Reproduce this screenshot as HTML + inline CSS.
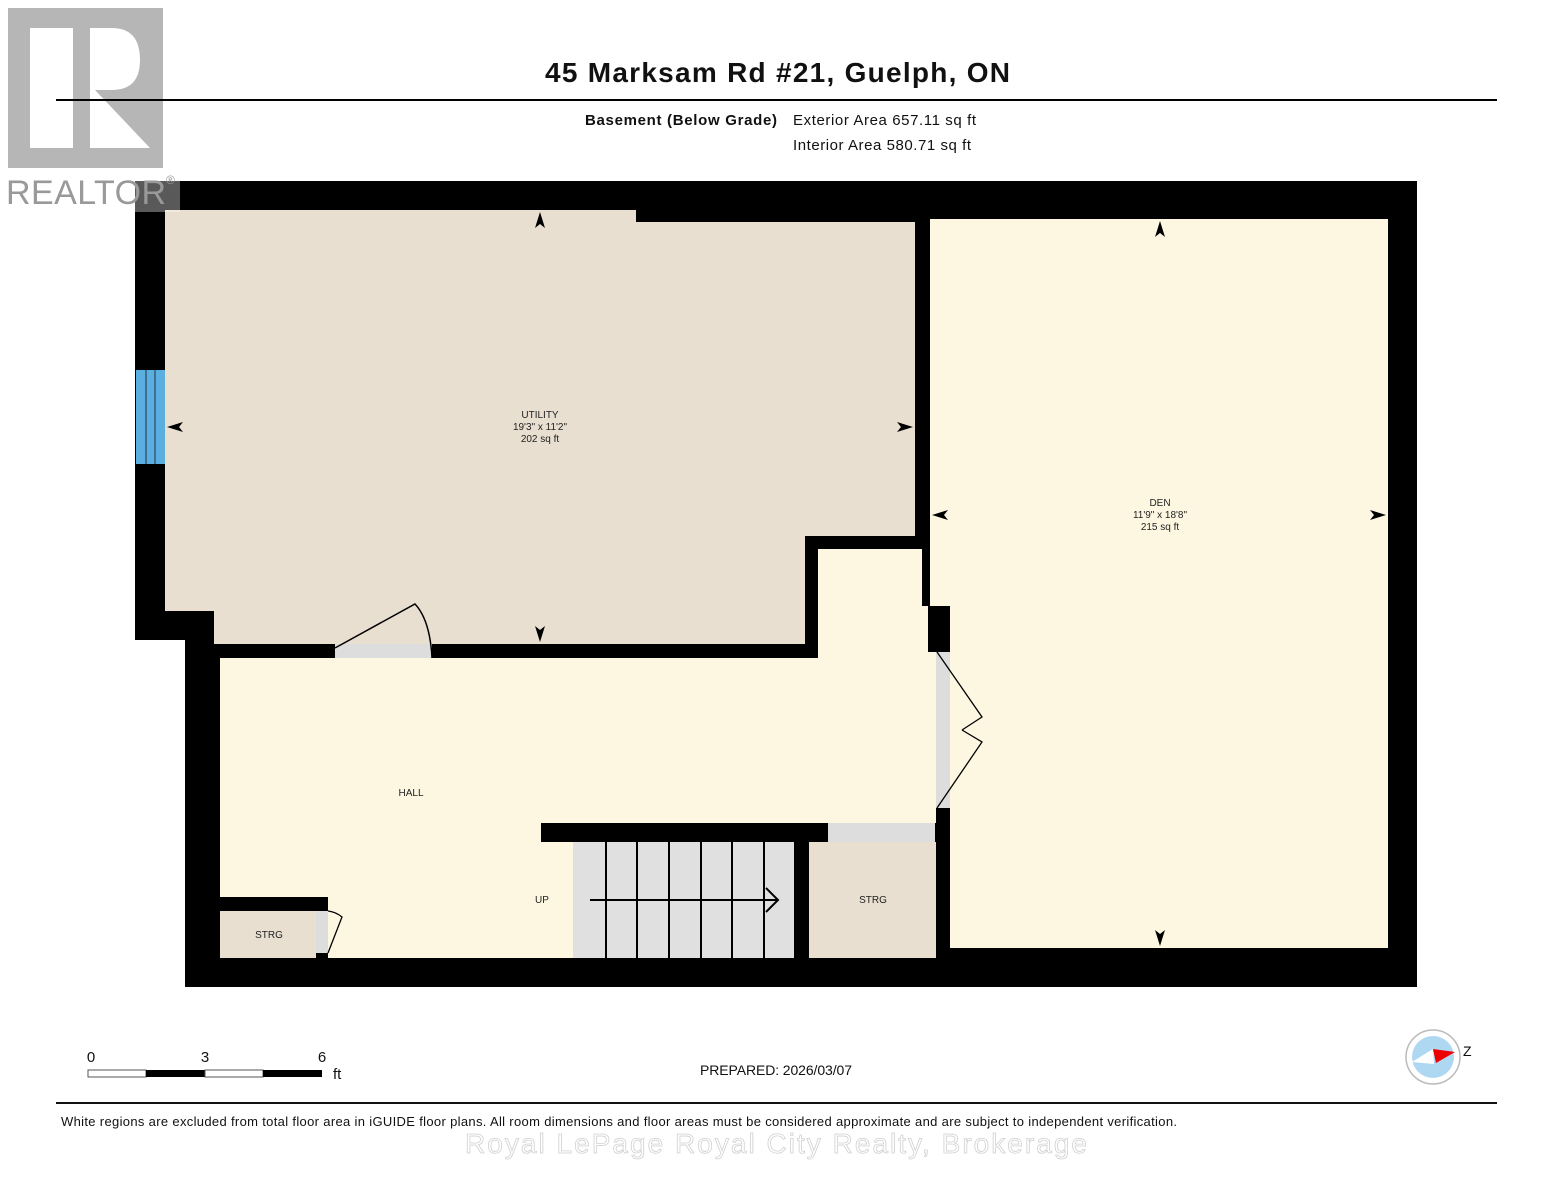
<!DOCTYPE html>
<html><head><meta charset="utf-8"><style>
html,body{margin:0;padding:0;background:#fff;}
svg{display:block;}
text{font-family:"Liberation Sans",Arial,sans-serif;}
</style></head><body>
<svg width="1553" height="1200" viewBox="0 0 1553 1200" xmlns="http://www.w3.org/2000/svg">
<rect width="1553" height="1200" fill="#fff"/>

<!-- title -->
<text x="545" y="82" font-size="28" font-weight="bold" fill="#111" textLength="465">45 Marksam Rd #21, Guelph, ON</text>
<line x1="56" y1="100" x2="1497" y2="100" stroke="#000" stroke-width="2"/>
<text x="585" y="125" font-size="15" font-weight="bold" fill="#111" textLength="192">Basement (Below Grade)</text>
<text x="793" y="125" font-size="15" fill="#111" textLength="183">Exterior Area 657.11 sq ft</text>
<text x="793" y="150" font-size="15" fill="#111" textLength="178">Interior Area 580.71 sq ft</text>

<!-- walls -->
<polygon points="135,181 1417,181 1417,987 185,987 185,640 135,640" fill="#000"/>
<polygon points="165,210 636,210 636,222 915,222 915,536 805,536 805,644 214,644 214,611 165,611" fill="#e8dfd0"/>
<polygon points="220,658 818,658 818,549 922,549 922,606 928,606 928,652 936,652 936,823 541,823 541,842 573,842 573,958 328,958 328,897 220,897" fill="#fdf7e2"/>
<polygon points="930,219 1388,219 1388,948 950,948 950,652 930,652" fill="#fdf7e2"/>
<rect x="928" y="606" width="22" height="46" fill="#000"/>
<rect x="936" y="652" width="14" height="156" fill="#ddd"/>
<rect x="936" y="808" width="14" height="150" fill="#000"/>
<rect x="573" y="842" width="221" height="116" fill="#e0e0e0"/>
<g stroke="#000" stroke-width="2">
<line x1="606" y1="842" x2="606" y2="958"/><line x1="637" y1="842" x2="637" y2="958"/>
<line x1="669" y1="842" x2="669" y2="958"/><line x1="701" y1="842" x2="701" y2="958"/>
<line x1="732" y1="842" x2="732" y2="958"/><line x1="764" y1="842" x2="764" y2="958"/>
</g>
<line x1="590" y1="900" x2="778" y2="900" stroke="#000" stroke-width="2"/>
<polyline points="766,888 778,900 766,912" fill="none" stroke="#000" stroke-width="2"/>
<rect x="809" y="842" width="127" height="116" fill="#e8dfd0"/>
<rect x="828" y="823" width="107" height="19" fill="#ddd"/>
<rect x="220" y="911" width="96" height="47" fill="#e8dfd0"/>
<rect x="316" y="911" width="12" height="42" fill="#ddd"/>
<path d="M328,953 L342,917 Q336,912 328,911" fill="none" stroke="#000" stroke-width="1.3"/>
<rect x="335" y="644" width="97" height="14" fill="#ddd"/>
<path d="M335,648 L415,604 Q430,620 432,658" fill="none" stroke="#000" stroke-width="1.5"/>
<path d="M937,652 L982,717 L962,730" fill="none" stroke="#000" stroke-width="1.3"/>
<path d="M937,808 L982,742 L962,730" fill="none" stroke="#000" stroke-width="1.3"/>
<rect x="136" y="370" width="29" height="94" fill="#5aaee0"/>
<g stroke="#234" stroke-width="1"><line x1="146" y1="370" x2="146" y2="464"/><line x1="155" y1="370" x2="155" y2="464"/></g>

<g fill="#000">
<polygon points="540,212 535,228 540,224 545,228"/>
<polygon points="540,642 535,626 540,630 545,626"/>
<polygon points="167,427 183,422 179,427 183,432"/>
<polygon points="913,427 897,422 901,427 897,432"/>
<polygon points="1160,221 1155,237 1160,233 1165,237"/>
<polygon points="1160,946 1155,930 1160,934 1165,930"/>
<polygon points="932,515 948,510 944,515 948,520"/>
<polygon points="1386,515 1370,510 1374,515 1370,520"/>
</g>

<g font-size="10" fill="#222" text-anchor="middle">
<text x="540" y="418">UTILITY</text><text x="540" y="430">19'3" x 11'2"</text><text x="540" y="442">202 sq ft</text>
<text x="1160" y="506">DEN</text><text x="1160" y="518">11'9" x 18'8"</text><text x="1160" y="530">215 sq ft</text>
<text x="411" y="796">HALL</text>
<text x="542" y="903">UP</text>
<text x="873" y="903">STRG</text>
<text x="269" y="938">STRG</text>
</g>

<!-- realtor logo (on top, semi-transparent) -->
<g opacity="0.85">
<rect x="8" y="8" width="155" height="160" fill="#aaa"/>
<rect x="30" y="28" width="43" height="120" fill="#fff"/>
<path d="M90,28 L112,28 Q140,28 140,60 Q140,90 112,90 L95,90 L150,148 L90,148 Z" fill="#fff"/>
</g>
<rect x="0" y="170" width="180" height="42" fill="#fff" opacity="0.35"/>
<text x="6" y="204" font-size="34" fill="#999" textLength="160">REALTOR</text>
<text x="166" y="184" font-size="12" fill="#999">®</text>
<line x1="56" y1="100" x2="163" y2="100" stroke="#000" stroke-width="2"/>

<text x="91" y="1062" font-size="15" text-anchor="middle" fill="#111">0</text>
<text x="205" y="1062" font-size="15" text-anchor="middle" fill="#111">3</text>
<text x="322" y="1062" font-size="15" text-anchor="middle" fill="#111">6</text>
<rect x="88" y="1070" width="58" height="7" fill="#fff" stroke="#555" stroke-width="1"/>
<rect x="146" y="1070" width="59" height="7" fill="#000"/>
<rect x="205" y="1070" width="58" height="7" fill="#fff" stroke="#555" stroke-width="1"/>
<rect x="263" y="1070" width="59" height="7" fill="#000"/>
<text x="333" y="1079" font-size="15" fill="#111">ft</text>
<text x="700" y="1075" font-size="14" fill="#111" textLength="152">PREPARED: 2026/03/07</text>

<circle cx="1433" cy="1057" r="27" fill="#fff" stroke="#bbb" stroke-width="1.5"/>
<circle cx="1433" cy="1057" r="21" fill="#aed8f2"/>
<polygon points="1412,1062 1433,1049 1434,1064" fill="#fff"/>
<polygon points="1433,1049 1455,1052 1436,1063" fill="#e00"/>
<text x="1463" y="1056" font-size="14" fill="#111">Z</text>

<line x1="56" y1="1103" x2="1497" y2="1103" stroke="#111" stroke-width="2"/>
<text x="61" y="1126" font-size="13" fill="#111" textLength="1116">White regions are excluded from total floor area in iGUIDE floor plans. All room dimensions and floor areas must be considered approximate and are subject to independent verification.</text>
<text x="465" y="1153" font-size="28" fill="#fff" stroke="#ccc" stroke-width="0.8" opacity="0.9" textLength="622">Royal LePage Royal City Realty, Brokerage</text>
</svg>
</body></html>
